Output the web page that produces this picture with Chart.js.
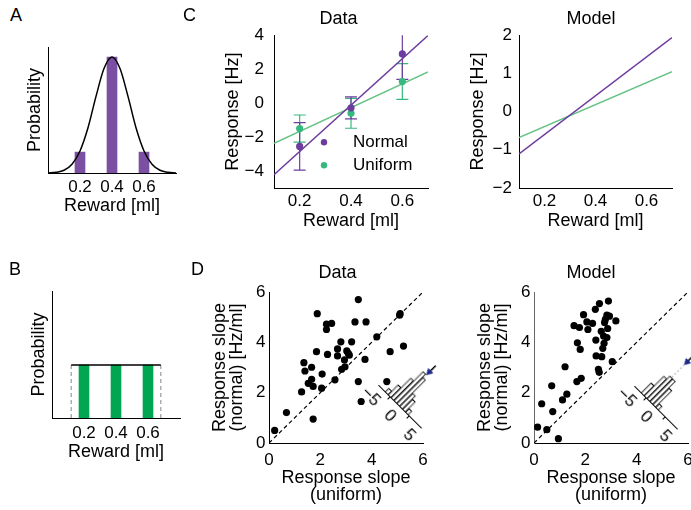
<!DOCTYPE html>
<html>
<head>
<meta charset="utf-8">
<script src="https://cdn.jsdelivr.net/npm/chart.js@4.4.1/dist/chart.umd.min.js"></script>
<style>
body { margin: 0; width: 691px; height: 510px; overflow: hidden; background: #fff; position: relative;
       font-family: "Liberation Sans", Arial, sans-serif; }
canvas { position: absolute; }
.txt { position: absolute; font-size: 18px; line-height: 1; color: #000; white-space: nowrap; }
.mid { transform: translateX(-50%); }
.inset { position: absolute; width: 90px; height: 100px; transform-origin: 45px 71px; transform: rotate(45deg); }
</style>
</head>
<body>
<canvas id="pa" width="185" height="200" style="left:0;top:30px"></canvas>
<canvas id="pb" width="185" height="200" style="left:0;top:270px"></canvas>
<canvas id="pcData" width="255" height="220" style="left:180px;top:15px"></canvas>
<canvas id="pcModel" width="251" height="220" style="left:440px;top:15px"></canvas>
<canvas id="pdData" width="245" height="235" style="left:190px;top:275px"></canvas>
<canvas id="pdModel" width="250" height="235" style="left:450px;top:275px"></canvas>
<div class="inset" style="left:355px;top:335px"><canvas id="histData" width="90" height="100" style="left:0;top:0"></canvas></div>
<div class="inset" style="left:610.5px;top:335.5px"><canvas id="histModel" width="90" height="100" style="left:0;top:0"></canvas></div>

<div class="txt" style="left:10px;top:5.5px">A</div>
<div class="txt" style="left:9px;top:260px">B</div>
<div class="txt" style="left:183px;top:5.5px">C</div>
<div class="txt" style="left:191px;top:260px">D</div>
<div class="txt mid" style="left:338.5px;top:9px">Data</div>
<div class="txt mid" style="left:591px;top:9px">Model</div>
<div class="txt mid" style="left:337.5px;top:262.5px">Data</div>
<div class="txt mid" style="left:591px;top:262.5px">Model</div>

<script>
// reward distributions (A, B)
const rewards = [0.2, 0.4, 0.6];
const normalProb = [0.18, 1.0, 0.18];
const uniformProb = [1, 1, 1];
const curveX = [0, 0.05, 0.1, 0.15, 0.2, 0.25, 0.3, 0.35, 0.4, 0.45, 0.5, 0.55, 0.6, 0.65, 0.7, 0.75, 0.8];
const curveY = [0.001, 0.006, 0.024, 0.076, 0.19, 0.39, 0.66, 0.90, 1.0, 0.90, 0.66, 0.39, 0.19, 0.076, 0.024, 0.006, 0.001];
const uniformEdges = [0.12, 0.68];
const rewardTicks = [0.2, 0.4, 0.6];

// C: response vs reward
const normalResp = [-2.55, -0.28, 2.9];
const normalErr = [1.4, 0.65, 1.5];
const uniformResp = [-1.5, -0.6, 1.27];
const uniformErr = [0.8, 0.88, 1.05];
const fitX = [0.1, 0.7];
const normalFit = [-4.22, 3.98];
const uniformFit = [-2.37, 1.84];
const modelNormalFit = [-1.11, 1.93];
const modelUniformFit = [-0.68, 1.04];
const legendLabels = ['Normal', 'Uniform'];
const dataRespTicks = [-4, -2, 0, 2, 4];
const modelRespTicks = [-2, -1, 0, 1, 2];

// D: response slopes per neuron
const dataUniformSlope = [0.22, 0.68, 1.72, 1.27, 1.36, 1.40, 1.66, 1.53, 1.66, 1.72, 1.85, 1.88, 2.05, 2.07, 2.24, 2.24, 2.44, 2.28, 2.57, 2.67, 2.67,
  2.80, 2.83, 2.94, 2.96, 3.03, 3.09, 3.13, 3.22, 3.35, 3.48, 3.78, 3.74, 3.48, 3.59, 4.20, 4.72, 5.09, 5.11, 5.24, 4.59];
const dataNormalSlope = [0.50, 1.21, 0.95, 2.03, 3.19, 2.86, 3.01, 2.37, 2.53, 2.25, 3.63, 5.14, 2.18, 2.74, 4.72, 4.51, 4.75, 3.52, 2.51, 3.74, 3.46,
  4.02, 2.93, 3.30, 3.03, 3.66, 3.56, 3.49, 4.02, 4.81, 5.70, 4.81, 3.32, 2.44, 1.65, 4.22, 3.63, 5.08, 5.14, 3.85, 2.44];
const modelUniformSlope = [0.14, 0.30, 0.50, 0.69, 0.73, 0.95, 1.11, 1.28, 1.21, 1.67, 1.84, 1.56, 1.69, 1.80, 1.77, 1.93, 2.06, 2.10, 2.28, 2.39,
  2.41, 2.42, 2.51, 2.54, 2.55, 2.62, 2.64, 2.68, 2.71, 2.75, 2.78, 2.84, 2.87, 2.90, 2.94, 2.84, 3.05, 3.19, 2.73];
const modelNormalSlope = [0.63, 1.56, 0.53, 2.27, 1.25, 0.17, 1.71, 1.94, 3.03, 2.44, 2.57, 4.66, 3.98, 3.72, 4.59, 5.10, 4.81, 4.51, 4.75, 5.31,
  4.09, 3.46, 2.93, 2.81, 5.54, 4.44, 3.43, 3.76, 4.25, 4.79, 4.91, 4.19, 4.55, 5.64, 5.04, 5.08, 3.23, 4.85, 3.96];
const slopeTicks = [0, 2, 4, 6];

// D insets: histogram of slope differences
const histBins = [-3.375, -2.625, -1.875, -1.125, -0.375, 0.375, 1.125, 1.875];
const dataHist = [1, 3, 6, 9, 8, 4, 3, 1];
const modelHist = [3, 6, 7, 7, 5, 1, 0, 0];
const histTicks = [-5, 0, 5];
const dataMeanDiff = -0.6;
const modelMeanDiff = -1.8;

const FONT = '"Liberation Sans", Arial, sans-serif';
const PURPLE = '#6c3c9e';
const PURPLE_BAR = '#7b4fa2';
const GREEN_DOT = '#35b97f';
const GREEN_LINE = '#66c285';
const GREEN_BAR = '#00a651';

Chart.defaults.font.family = FONT;
Chart.defaults.color = '#000';
Chart.defaults.animation = false;
Chart.defaults.responsive = false;
Chart.defaults.plugins.legend.display = false;
Chart.defaults.plugins.tooltip.enabled = false;

const pts = (xs, ys) => xs.map((x, i) => ({x: x, y: ys[i]}));
const minus = v => (v < 0 ? '\u2212' + Math.abs(v) : String(v));

function axis(o) {
  return {
    type: 'linear', min: o.min, max: o.max, offset: false,
    grid: {display: false, drawTicks: false},
    border: {display: true, color: o.color || '#000', width: 1},
    afterBuildTicks: s => { if (o.ticks) s.ticks = o.ticks.map(v => ({value: v})); },
    afterFit: s => { if (s.isHorizontal()) s.height = o.size; else s.width = o.size; },
    ticks: {display: !!o.ticks, padding: o.pad || 0, font: {size: o.tickSize || 17}, callback: o.fmt || minus},
    title: o.title ? {display: true, text: o.title, padding: 0, font: {size: 18, lineHeight: o.lh || 1.2}} : {display: false}
  };
}

// error bars drawn through the chart scales
const errorBars = {
  id: 'errorBars',
  beforeDatasetsDraw(chart, args, opts) {
    const {ctx, chartArea, scales} = chart;
    ctx.save();
    ctx.beginPath();
    ctx.rect(chartArea.left, chartArea.top, chartArea.width, chartArea.height);
    ctx.clip();
    opts.series.forEach(s => {
      ctx.strokeStyle = s.color;
      ctx.lineWidth = 1.2;
      s.x.forEach((xv, i) => {
        const px = scales.x.getPixelForValue(xv);
        const top = scales.y.getPixelForValue(s.y[i] + s.err[i]);
        const bot = scales.y.getPixelForValue(s.y[i] - s.err[i]);
        ctx.beginPath();
        ctx.moveTo(px, top); ctx.lineTo(px, bot);
        ctx.moveTo(px - 6, top); ctx.lineTo(px + 6, top);
        ctx.moveTo(px - 6, bot); ctx.lineTo(px + 6, bot);
        ctx.stroke();
      });
    });
    ctx.restore();
  }
};

const insideLegend = {
  id: 'insideLegend',
  afterDatasetsDraw(chart, args, opts) {
    const {ctx, chartArea} = chart;
    ctx.save();
    ctx.font = '17px ' + FONT;
    ctx.textBaseline = 'middle';
    opts.items.forEach((it, i) => {
      const cx = chartArea.left + opts.left;
      const cy = chartArea.top + opts.top + i * opts.gap;
      ctx.fillStyle = it.color;
      ctx.beginPath();
      ctx.arc(cx, cy, 3.2, 0, 2 * Math.PI);
      ctx.fill();
      ctx.fillStyle = '#000';
      ctx.fillText(it.text, cx + 29, cy);
    });
    ctx.restore();
  }
};

// A: normal reward distribution
new Chart(document.getElementById('pa'), {
  type: 'bar',
  data: {
    datasets: [
      {type: 'line', data: pts(curveX, curveY), borderColor: '#000', borderWidth: 1.5, pointRadius: 0, cubicInterpolationMode: 'monotone'},
      {data: pts(rewards, normalProb), backgroundColor: PURPLE_BAR, barThickness: 10}
    ]
  },
  options: {
    layout: {padding: {left: 24.2, right: 9, top: 17, bottom: 12.7}},
    scales: {
      x: axis({min: 0, max: 0.8, ticks: rewardTicks, size: 44.3, pad: 3.8, title: 'Reward [ml]', fmt: v => v.toFixed(1)}),
      y: axis({min: 0, max: 1.086, size: 23.8, title: 'Probability'})
    }
  }
});

// B: uniform reward distribution
new Chart(document.getElementById('pb'), {
  type: 'bar',
  data: {
    datasets: [
      {type: 'line', data: [{x: uniformEdges[0], y: 1}, {x: uniformEdges[1], y: 1}], borderColor: '#000', borderWidth: 1.5, pointRadius: 0},
      {type: 'line', data: [{x: uniformEdges[0], y: 0}, {x: uniformEdges[0], y: 1}], borderColor: '#999', borderWidth: 1.2, borderDash: [4, 3], pointRadius: 0},
      {type: 'line', data: [{x: uniformEdges[1], y: 0}, {x: uniformEdges[1], y: 1}], borderColor: '#999', borderWidth: 1.2, borderDash: [4, 3], pointRadius: 0},
      {data: pts(rewards, uniformProb), backgroundColor: GREEN_BAR, barThickness: 10}
    ]
  },
  options: {
    layout: {padding: {left: 28.7, right: 5, top: 21, bottom: 6.7}},
    scales: {
      x: axis({min: 0, max: 0.8, ticks: rewardTicks, size: 45.3, pad: 4.8, title: 'Reward [ml]', fmt: v => v.toFixed(1)}),
      y: axis({min: 0, max: 2.4, size: 23.3, title: 'Probability'})
    }
  }
});

// C: data
new Chart(document.getElementById('pcData'), {
  type: 'scatter',
  data: {
    datasets: [
      {data: pts(rewards, normalResp), backgroundColor: PURPLE, pointRadius: 3.6, pointBorderWidth: 0},
      {data: pts(rewards, uniformResp), backgroundColor: GREEN_DOT, pointRadius: 3.6, pointBorderWidth: 0},
      {data: pts(fitX, normalFit), showLine: true, borderColor: PURPLE, borderWidth: 1.5, pointRadius: 0},
      {data: pts(fitX, uniformFit), showLine: true, borderColor: GREEN_LINE, borderWidth: 1.5, pointRadius: 0}
    ]
  },
  plugins: [errorBars, insideLegend],
  options: {
    layout: {padding: {left: 42.7, right: 7, top: 20, bottom: 3.2}},
    plugins: {
      errorBars: {series: [
        {x: rewards, y: uniformResp, err: uniformErr, color: GREEN_DOT},
        {x: rewards, y: normalResp, err: normalErr, color: PURPLE}
      ]},
      insideLegend: {left: 50, top: 107, gap: 23, items: [
        {text: legendLabels[0], color: PURPLE},
        {text: legendLabels[1], color: GREEN_DOT}
      ]}
    },
    scales: {
      x: axis({min: 0.1, max: 0.7, ticks: rewardTicks, size: 43.8, pad: 3.3, title: 'Reward [ml]', fmt: v => v.toFixed(1)}),
      y: axis({min: -5, max: 4, ticks: dataRespTicks, size: 51.3, pad: 10, title: 'Response [Hz]'})
    }
  }
});

// C: model
new Chart(document.getElementById('pcModel'), {
  type: 'scatter',
  data: {
    datasets: [
      {data: pts(fitX, modelNormalFit), showLine: true, borderColor: PURPLE, borderWidth: 1.5, pointRadius: 0},
      {data: pts(fitX, modelUniformFit), showLine: true, borderColor: GREEN_LINE, borderWidth: 1.5, pointRadius: 0}
    ]
  },
  options: {
    layout: {padding: {left: 27.7, right: 19, top: 20, bottom: 3.2}},
    scales: {
      x: axis({min: 0.1, max: 0.7, ticks: rewardTicks, size: 43.8, pad: 3.3, title: 'Reward [ml]', fmt: v => v.toFixed(1)}),
      y: axis({min: -2, max: 2, ticks: modelRespTicks, size: 51.3, pad: 7, title: 'Response [Hz]'})
    }
  }
});

// D: slope scatter plots
function slopeChart(id, xs, ys, padLeft, yWidth, yColor) {
  return new Chart(document.getElementById(id), {
    type: 'scatter',
    data: {
      datasets: [
        {data: pts(xs, ys), backgroundColor: '#000', pointRadius: 3.6, pointBorderWidth: 0},
        {data: pts([0, 6], [0, 6]), showLine: true, borderColor: '#000', borderWidth: 1.2, borderDash: [4, 3], pointRadius: 0}
      ]
    },
    options: {
      layout: {padding: {left: padLeft, right: 12, top: 17, bottom: 6.7}},
      scales: {
        x: axis({min: 0, max: 6, ticks: slopeTicks, size: 60.3, pad: 6.8, title: ['Response slope', '(uniform)'], lh: 0.92}),
        y: axis({min: 0, max: 6, ticks: slopeTicks, size: yWidth, pad: 3.5, title: ['Response slope', '(normal) [Hz/ml]'], lh: 0.92, color: yColor})
      }
    }
  });
}
slopeChart('pdData', dataUniformSlope, dataNormalSlope, 21.7, 57.3, '#000');
slopeChart('pdModel', modelUniformSlope, modelNormalSlope, 27.2, 56.8, '#666');

// D insets: rotated histograms
function histChart(id, counts, mean, arrowAt) {
  return new Chart(document.getElementById(id), {
    type: 'bar',
    data: {
      datasets: [
        {data: pts(histBins, counts), backgroundColor: '#fff', borderColor: '#000', borderWidth: 1, barPercentage: 1, categoryPercentage: 1},
        {type: 'line', data: [{x: mean, y: arrowAt}], pointStyle: 'triangle', rotation: 180, pointRadius: 3.5,
         backgroundColor: '#1c2a8c', borderColor: '#1c2a8c', showLine: false},
        {type: 'line', data: [{x: mean, y: arrowAt + 0.4}, {x: mean, y: arrowAt + 2}], borderColor: '#000', borderWidth: 1.5, pointRadius: 0},
        {type: 'line', data: [{x: mean, y: 0}, {x: mean, y: arrowAt + 2.4}], borderColor: '#aaa', borderWidth: 1, borderDash: [2, 2], pointRadius: 0}
      ]
    },
    options: {
      layout: {padding: {left: 15, right: 15, top: 4, bottom: 4}},
      scales: {
        x: {
          type: 'linear', min: -5.5, max: 5.5, offset: false,
          grid: {display: true, drawOnChartArea: false, drawTicks: true, tickLength: 4, color: '#000'},
          border: {display: true, color: '#000', width: 1},
          afterBuildTicks: s => { s.ticks = histTicks.map(v => ({value: v})); },
          afterFit: s => { s.height = 25; },
          ticks: {padding: 0, font: {size: 17}, callback: minus}
        },
        y: {display: false, min: 0, max: 14.5}
      }
    }
  });
}
histChart('histData', dataHist, dataMeanDiff, 9.8);
histChart('histModel', modelHist, modelMeanDiff, 11.8);
</script>
</body>
</html>
